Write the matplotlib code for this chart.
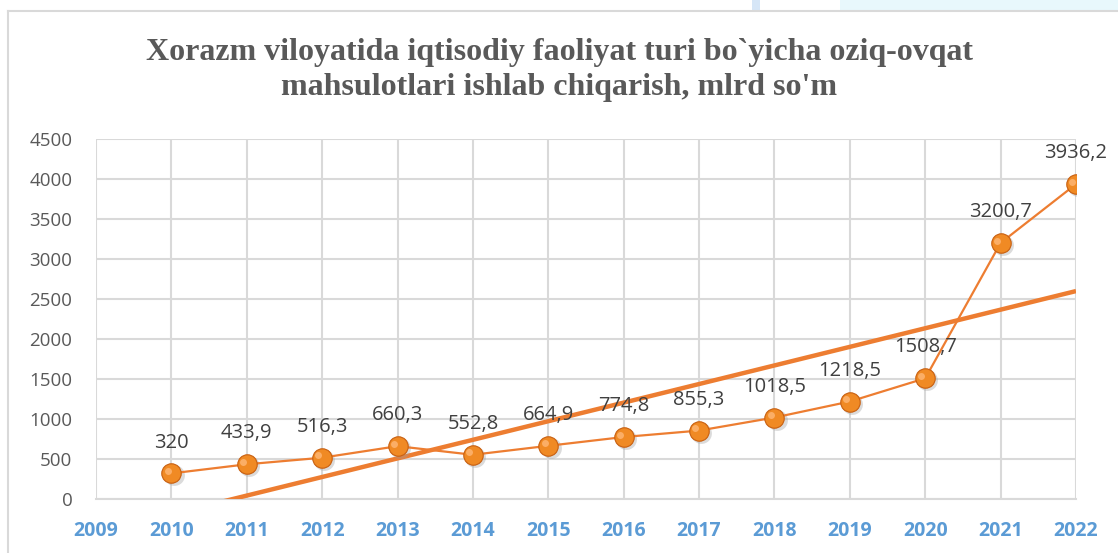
import numpy as np
import matplotlib
matplotlib.use('Agg')
from matplotlib import pyplot as plt
from matplotlib.patches import Rectangle

years = ['2009', '2010', '2011', '2012', '2013', '2014', '2015', '2016',
         '2017', '2018', '2019', '2020', '2021', '2022']
data_years = [2010, 2011, 2012, 2013, 2014, 2015, 2016, 2017, 2018, 2019, 2020, 2021, 2022]
values = [320, 433.9, 516.3, 660.3, 552.8, 664.9, 774.8, 855.3, 1018.5, 1218.5, 1508.7, 3200.7, 3936.2]
labels = ['320', '433,9', '516,3', '660,3', '552,8', '664,9', '774,8', '855,3',
          '1018,5', '1218,5', '1508,7', '3200,7', '3936,2']
y_ticks = [0, 500, 1000, 1500, 2000, 2500, 3000, 3500, 4000, 4500]

orange = '#ED7D31'
grid_c = '#D9D9D9'

fig = plt.figure(figsize=(11.18, 5.53), dpi=100)

# rama va fon (skrinshot qoldiqlari)
fig.patches.append(Rectangle((840 / 1118, 1 - 10 / 553), 1, 10 / 553, transform=fig.transFigure,
                             facecolor='#E8F8FC', edgecolor='none', zorder=0))
fig.patches.append(Rectangle((752 / 1118, 1 - 10 / 553), 8 / 1118, 10 / 553, transform=fig.transFigure,
                             facecolor='#D6E6F7', edgecolor='none', zorder=0))
fig.lines.append(plt.Line2D([8 / 1118, 1], [1 - 10.5 / 553, 1 - 10.5 / 553], transform=fig.transFigure,
                            color='#D9D9D9', lw=1.5))
fig.lines.append(plt.Line2D([8 / 1118, 8 / 1118], [0, 1 - 10.5 / 553], transform=fig.transFigure,
                            color='#D9D9D9', lw=1.5))

ax = fig.add_axes([96 / 1118, 1 - 499 / 553, (1076 - 96) / 1118, (499 - 139) / 553])

x_pos = np.arange(len(years))
data_x = np.array([years.index(str(y)) for y in data_years])

# chiziqli trend
k, b = np.polyfit(data_x, values, 1)
tx = np.array([data_x[0], data_x[-1]])
ax.plot(tx, k * tx + b, color=orange, lw=3.2, solid_capstyle='butt', zorder=3)

# soya
ax.plot(data_x + 0.03, np.array(values) - 25, 'o', ms=15, color='#9a9a9a', alpha=0.35,
        zorder=3.5, markeredgewidth=0)
ax.plot(data_x, values, color=orange, lw=1.6, zorder=4)
ax.plot(data_x, values, 'o', ms=14, color='#F08A24', markeredgecolor='#C85F10',
        markeredgewidth=0.8, zorder=5)
ax.plot(data_x - 0.05, np.array(values) + 30, 'o', ms=5, color='#FFB877', alpha=0.8,
        markeredgewidth=0, zorder=6)

for xi, v, lab in zip(data_x, values, labels):
    ax.annotate(lab, (xi, v), xytext=(0, 15), textcoords='offset points', ha='center',
                va='bottom', fontsize=14.5, color='#404040', family='Open Sans', zorder=7)

ax.set_xlim(0, len(years) - 1)
ax.set_ylim(0, 4500)
ax.set_xticks(x_pos)
ax.set_xticklabels(years)
ax.set_yticks(y_ticks)
ax.grid(True, color=grid_c, lw=1.5)
ax.set_axisbelow(True)
for s in ['top', 'right', 'left']:
    ax.spines[s].set_visible(False)
ax.spines['bottom'].set_color(grid_c)
ax.spines['bottom'].set_linewidth(1.5)
ax.tick_params(axis='both', length=0)
ax.tick_params(axis='y', pad=17, labelsize=13.5, labelcolor='#595959')
ax.tick_params(axis='x', pad=16, labelsize=14, labelcolor='#5B9BD5')
for t in ax.get_yticklabels():
    t.set_family('Open Sans')
for t in ax.get_xticklabels():
    t.set_family('Open Sans')
    t.set_fontweight('bold')
    t.set_fontstretch('condensed')

fig.text(0.5, 1 - 70 / 553, "Xorazm viloyatida iqtisodiy faoliyat turi bo`yicha oziq-ovqat\nmahsulotlari ishlab chiqarish, mlrd so'm",
         ha='center', va='center', fontsize=23, fontweight='bold', family='Liberation Serif',
         color='#595959', linespacing=1.28)

fig.savefig('out.png', dpi=100)
